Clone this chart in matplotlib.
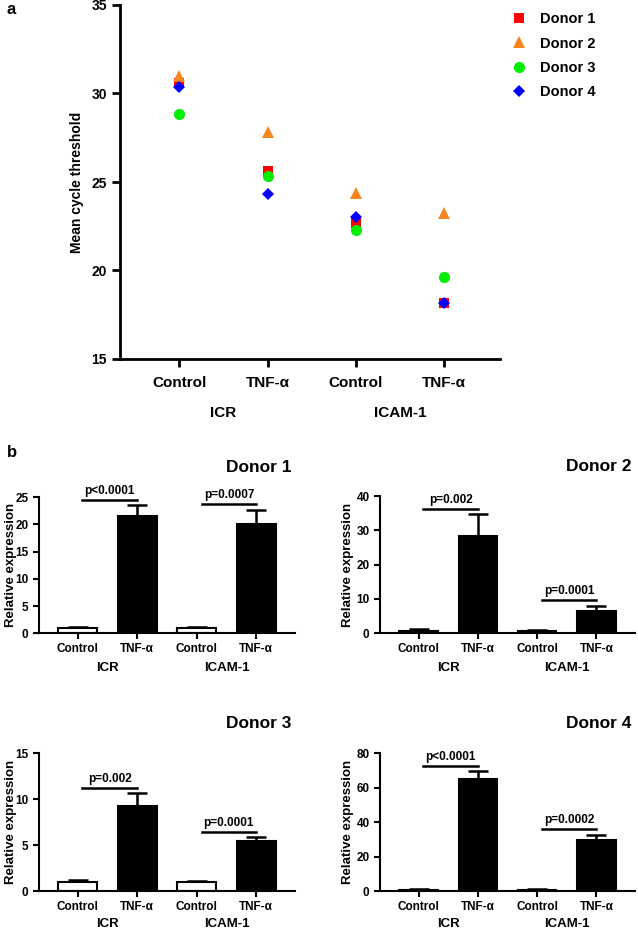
import matplotlib as mpl
mpl.use('Agg')
import matplotlib.pyplot as plt
import matplotlib.transforms as mtransforms

plt.rcParams['font.family'] = ['Liberation Sans', 'DejaVu Sans']
plt.rcParams['font.weight'] = 'bold'
plt.rcParams['axes.labelweight'] = 'bold'

# ---------------- data ----------------
x_labels = ['Control', 'TNF-α', 'Control', 'TNF-α']
groups = ['ICR', 'ICAM-1']
donors = ['Donor 1', 'Donor 2', 'Donor 3', 'Donor 4']

# panel a : mean cycle threshold
ct_d1 = [30.58, 25.64, 22.70, 18.18]
ct_d2 = [31.00, 27.80, 24.40, 23.23]
ct_d3 = [28.82, 25.36, 22.29, 19.62]
ct_d4 = [30.35, 24.34, 23.04, 18.18]

# panel b : relative expression (mean, sem)
expr_d1 = [1.00, 21.5, 1.00, 20.1]
err_d1  = [0.15, 2.1, 0.15, 2.6]
expr_d2 = [0.80, 28.4, 0.80, 6.6]
err_d2  = [0.35, 6.4, 0.30, 1.4]
expr_d3 = [0.95, 9.3, 0.95, 5.45]
err_d3  = [0.25, 1.35, 0.15, 0.40]
expr_d4 = [0.80, 65.1, 0.80, 29.5]
err_d4  = [0.50, 4.6, 0.50, 3.0]

ymax_b  = [25, 40, 15, 80]
ystep_b = [5, 10, 5, 20]

p_icr  = ['p<0.0001', 'p=0.002', 'p=0.002', 'p<0.0001']
p_icam = ['p=0.0007', 'p=0.0001', 'p=0.0001', 'p=0.0002']
pline_icr  = [24.5, 36.2, 11.2, 72.8]
pline_icam = [23.8, 9.7, 6.4, 36.0]

# ---------------- figure ----------------
W, H = 638, 930
fig = plt.figure(figsize=(W/100., H/100.), dpi=100, facecolor='w')

def add_ax(l, t, r, b):
    return fig.add_axes([l/W, 1.-b/H, (r-l)/W, (b-t)/H])

def style_ax(ax, lw):
    for s in ['top', 'right']:
        ax.spines[s].set_visible(False)
    for s in ['left', 'bottom']:
        ax.spines[s].set_linewidth(lw)
    ax.tick_params(width=lw, length=5, direction='out')

xpos = [1, 2, 3, 4]

# ---- panel a ----
ax1 = add_ax(120, 5, 500, 359)
style_ax(ax1, 2.0)
mk = [('s', '#ff0000', 7.5), ('^', '#f7851e', 8.5), ('o', '#00ee00', 8.0), ('D', '#0000ff', 6.0)]
hnd = []
for ct, (m, c, ms) in zip([ct_d1, ct_d2, ct_d3, ct_d4], mk):
    h, = ax1.plot(xpos, ct, ls='none', marker=m, color=c, markersize=ms, markeredgewidth=0)
    hnd.append(h)
ax1.set_xlim(0.33, 4.63)
ax1.set_ylim(15, 35)
ax1.set_yticks([15, 20, 25, 30, 35])
ax1.set_xticks(xpos)
ax1.set_xticklabels(x_labels, fontsize=11, fontweight='bold')
ax1.tick_params(axis='y', labelsize=10, length=6)
ax1.tick_params(axis='x', pad=6, length=6)
ax1.set_ylabel('Mean cycle threshold', fontsize=10)
ax1.yaxis.set_label_coords(-36./380, 0.5)
tr = mtransforms.blended_transform_factory(ax1.transData, ax1.transAxes)
ax1.text(1.5, -54./354, groups[0], transform=tr, ha='center', va='center', fontsize=11)
ax1.text(3.5, -54./354, groups[1], transform=tr, ha='center', va='center', fontsize=11)

fig.legend(hnd, donors, loc='upper left', bbox_to_anchor=(512./W, 1-12./H),
           frameon=False, fontsize=10.5, handlelength=1.0, handletextpad=0.9,
           labelspacing=0.72, borderpad=0, borderaxespad=0)

fig.text(11./W, 1-10./H, 'a', fontsize=12, ha='center', va='center')
fig.text(12./W, 1-452./H, 'b', fontsize=12, ha='center', va='center')

# ---- panel b ----
boxes = [(39, 497, 295, 633.3), (380, 496, 635, 633.3),
         (39, 753.3, 295, 891), (380, 753.3, 635, 891)]
ylab_off = [22, 26, 22, 26]
grp_off = [35, 35, 33, 33]
all_expr = [expr_d1, expr_d2, expr_d3, expr_d4]
all_err = [err_d1, err_d2, err_d3, err_d4]

for k in range(4):
    l, t, r, b = boxes[k]
    ax = add_ax(l, t, r, b)
    style_ax(ax, 1.5)
    ax.bar(xpos, all_expr[k], width=0.65, color=['w', 'k', 'w', 'k'],
           edgecolor='k', linewidth=1.5, zorder=2)
    ax.errorbar(xpos, all_expr[k], yerr=[[0]*4, all_err[k]], fmt='none',
                ecolor='k', elinewidth=1.8, capsize=7.5, capthick=1.8, zorder=1)
    ax.set_xlim(0.35, 4.65)
    ax.set_ylim(0, ymax_b[k])
    ax.set_yticks(range(0, ymax_b[k] + 1, ystep_b[k]))
    ax.set_xticks(xpos)
    ax.set_xticklabels(x_labels, fontsize=8.5, fontweight='bold')
    ax.tick_params(axis='y', labelsize=8.5, length=4)
    ax.tick_params(axis='x', length=4, pad=3)
    ax.set_ylabel('Relative expression', fontsize=9.5)
    ax.yaxis.set_label_coords(-float(ylab_off[k])/(r-l), 0.5)
    hh = b - t
    trb = mtransforms.blended_transform_factory(ax.transData, ax.transAxes)
    ax.text(1.5, -float(grp_off[k])/hh, groups[0], transform=trb, ha='center', va='center', fontsize=9.5)
    ax.text(3.5, -float(grp_off[k])/hh, groups[1], transform=trb, ha='center', va='center', fontsize=9.5)
    ax.text(1. - 4./(r-l), 1 + 30./hh, donors[k], transform=ax.transAxes,
            ha='right', va='center', fontsize=12.5)
    # significance bars
    for x0, yl, ptxt in [(1, pline_icr[k], p_icr[k]), (3, pline_icam[k], p_icam[k])]:
        ax.plot([x0 + 0.08, x0 + 1.0], [yl, yl], color='k', lw=1.8, clip_on=False)
        ax.annotate(ptxt, xy=(x0 + 0.54, yl), xytext=(0, 2), textcoords='offset points',
                    ha='center', va='bottom', fontsize=8.5, annotation_clip=False)

fig.savefig('out.png', dpi=100, facecolor='w')
